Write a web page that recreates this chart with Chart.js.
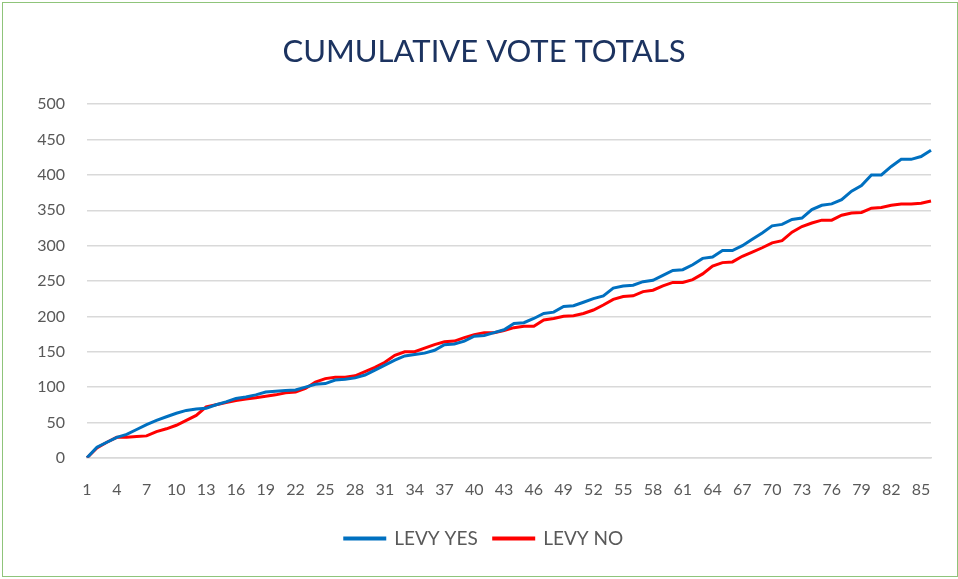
<!DOCTYPE html>
<html>
<head>
<meta charset="utf-8">
<script src="https://cdn.jsdelivr.net/npm/chart.js@4"></script>
<style>
    html, body { margin: 0; padding: 0; background: #fff; }
    #wrap {
        position: absolute; left: 2px; top: 2px;
        width: 954px; height: 573px;
        border: 1px solid #8fc47a;
    }
</style>
</head>
<body>
<div id="wrap"><canvas id="voteChart" width="954" height="573"></canvas></div>
<script>
"use strict";

// 開票順 1..86
const counts = [];
for (let i = 1; i <= 86; i++) {
    counts.push(String(i));
}

const levy_yes = [
    0, 15, 22, 29, 33, 40, 47, 53, 58, 63,
    67, 69, 70, 75, 79, 84, 86, 89, 93, 94,
    95, 96, 100, 104, 105, 110, 111, 113, 117, 124,
    131, 138, 144, 146, 148, 152, 160, 161, 165, 172,
    173, 177, 181, 190, 191, 197, 204, 206, 214, 215,
    220, 225, 229, 240, 243, 244, 249, 251, 258, 265,
    266, 273, 282, 284, 293, 293, 300, 309, 318, 328,
    330, 337, 339, 351, 357, 359, 365, 377, 385, 400,
    400, 412, 422, 422, 426, 435
];

const levy_no = [
    0, 14, 22, 29, 29, 30, 31, 37, 41, 46,
    53, 60, 72, 75, 78, 81, 83, 85, 87, 89,
    92, 93, 98, 107, 112, 114, 114, 116, 122, 128,
    135, 145, 150, 150, 155, 160, 164, 165, 170, 174,
    177, 177, 180, 184, 186, 186, 195, 197, 200, 201,
    204, 209, 216, 224, 228, 229, 235, 237, 243, 248,
    248, 252, 260, 271, 276, 277, 285, 291, 297, 304,
    307, 319, 327, 332, 336, 336, 343, 346, 347, 353,
    354, 357, 359, 359, 360, 363
];

const y_ticks = [0, 50, 100, 150, 200, 250, 300, 350, 400, 450, 500];

const font_family = "Lato, 'Open Sans', sans-serif";
const grid_color = '#d9d9d9';

const ctx = document.getElementById("voteChart");
const voteChart = new Chart(ctx, {
    type: 'line',
    data: {
        labels: counts,
        datasets: [{
            label: 'LEVY YES',
            data: levy_yes,
            borderColor: '#0070c0',
            backgroundColor: '#0070c0',
            borderWidth: 3,
            pointRadius: 0,
            tension: 0
        }, {
            label: 'LEVY NO',
            data: levy_no,
            borderColor: '#ff0000',
            backgroundColor: '#ff0000',
            borderWidth: 3,
            pointRadius: 0,
            tension: 0
        }]
    },
    options: {
        responsive: false,
        animation: false,
        layout: {
            padding: { left: 34, right: 26, top: 0, bottom: 18 }
        },
        plugins: {
            title: {
                display: true,
                text: 'CUMULATIVE VOTE TOTALS',
                color: '#1c3360',
                font: { family: font_family, size: 31, weight: 'normal' },
                padding: { top: 30, bottom: 34 }
            },
            legend: {
                position: 'bottom',
                labels: {
                    color: '#595959',
                    font: { family: font_family, size: 19 },
                    boxWidth: 40,
                    boxHeight: 1,
                    padding: 16
                }
            },
            tooltip: { enabled: false }
        },
        scales: {
            x: {
                offset: false,
                grid: { display: false },
                border: { display: true, color: grid_color, width: 1.5 },
                ticks: {
                    autoSkip: false,
                    maxRotation: 0,
                    minRotation: 0,
                    padding: 14,
                    color: '#595959',
                    font: { family: font_family, size: 16 },
                    callback: function (value, index) {
                        return index % 3 === 0 ? this.getLabelForValue(value) : '';
                    }
                }
            },
            y: {
                min: 0,
                max: 500,
                afterBuildTicks: function (scale) {
                    scale.ticks = y_ticks.map(function (v) { return { value: v }; });
                },
                afterFit: function (scale) {
                    scale.width = 50;
                },
                grid: { color: grid_color, lineWidth: 1.5, drawTicks: false },
                border: { display: false },
                ticks: {
                    padding: 22,
                    color: '#595959',
                    font: { family: font_family, size: 16 }
                }
            }
        }
    }
});
</script>
</body>
</html>
